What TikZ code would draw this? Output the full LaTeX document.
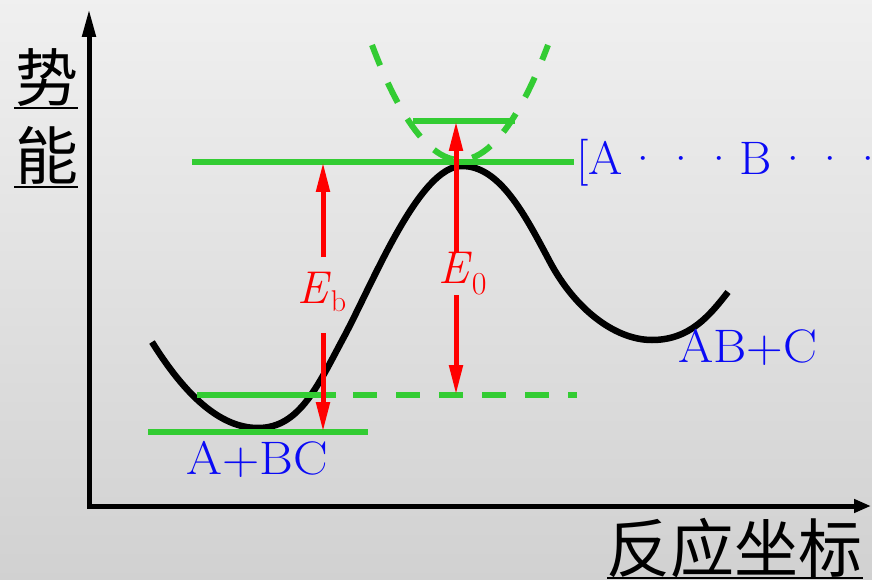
\documentclass[tikz,border=0pt]{standalone}
\usepackage{fontspec}
\newfontfamily\cjk{Noto Sans CJK SC}
\newfontfamily\djv{DejaVu Sans}
\usetikzlibrary{arrows.meta}
\definecolor{gr}{RGB}{51,204,51}
\definecolor{bl}{RGB}{10,10,245}
\definecolor{rd}{RGB}{255,0,0}
\newcommand{\mydots}{\kern3pt·\kern2pt·\kern2pt·\kern3pt}
\tikzset{
  gline/.style={draw=gr, line width=6pt},
  axis/.style={draw=black, line width=5pt},
  rarrow/.style={draw=rd, line width=5pt, -{Triangle[length=30pt,width=13pt]}},
  blab/.style={text=bl, inner sep=0pt, anchor=base west, font=\rmfamily\fontsize{47}{50}\selectfont},
  rlab/.style={text=rd, inner sep=0pt, anchor=base west, font=\rmfamily\fontsize{46}{50}\selectfont},
  cjklab/.style={inner sep=0pt, anchor=base west, font=\cjk\fontsize{63}{66}\selectfont},
}
\begin{document}
\begin{tikzpicture}[x=1pt,y=-1pt]
\shade[top color=white!94!black, bottom color=white!82!black] (0,0) rectangle (872,580);
\useasboundingbox (0,0) rectangle (872,580);

% axes
\coordinate (o) at (89,506);
\coordinate (ytop) at (89,9);
\coordinate (xend) at (871,506);
\draw[axis, -{Triangle[length=28pt,width=13pt]}] (89,508) -- (ytop);
\draw[axis, -{Triangle[length=17pt,width=13pt]}] (87,506) -- (xend);

% axis labels
\node[cjklab] (shi) at (15,102) {势};
\node[cjklab] (neng) at (15,180) {能};
\draw[line width=2pt] (14,108) -- (78,108);
\draw[line width=2pt] (14,187) -- (78,187);
\node[cjklab, font=\cjk\fontsize{64}{66}\selectfont] (xl) at (606,572) {反应坐标};
\draw[line width=2pt] (607,577.5) -- (863,577.5);

% energy curve
\draw[line width=6.5pt, line cap=butt]
  (152,342) .. controls (185,395) and (220,428) .. (258,428)
            .. controls (300,428) and (318,385) .. (345,335)
            .. controls (375,278) and (420,166) .. (462,166)
            .. controls (500,166) and (525,215) .. (550,262)
            .. controls (575,309) and (615,340) .. (652,340)
            .. controls (690,340) and (710,315) .. (728,292);

% green levels
\draw[gline] (192,162) -- (574,162);
\draw[gline] (148,432) -- (368,432);
\draw[gline] (197,395) -- (336,395);
\draw[gline, dash pattern=on 24pt off 19pt] (353,395) -- (577,395);
\draw[gline] (413,121) -- (515,121);
\draw[gline, dash pattern=on 22pt off 19pt] (372,45) parabola bend (460,160) (548,45);

% red arrows
\node[rlab] (eb) at (297,303) {\textit{E}\raisebox{-8pt}{\fontsize{30}{30}\selectfont b}};
\node[rlab] (e0) at (438,283) {\textit{E}\raisebox{-11pt}{\fontsize{32}{32}\selectfont 0}};
\coordinate (ebtop) at (323,162);
\coordinate (ebbot) at (323,432);
\coordinate (e0top) at (456,121);
\coordinate (e0bot) at (456,395);
\draw[rarrow] (323,257) -- (ebtop);
\draw[rarrow] (323,333) -- (ebbot);
\draw[rarrow] (456,252) -- (e0top);
\draw[rarrow] (456,295) -- (e0bot);

% labels
\node[blab] (ts) at (576,175) {\scalebox{1.05}[1]{[A\mydots B\mydots C]}\kern2pt\raisebox{6pt}{\djv\fontsize{32}{32}\selectfont\scalebox{1.35}[1]{≠}}};
\node[blab] (react) at (186,474) {\scalebox{1.1}[1]{A+BC}};
\node[blab] (prod) at (678,362) {\scalebox{1.08}[1]{AB+C}};
\end{tikzpicture}
\end{document}
